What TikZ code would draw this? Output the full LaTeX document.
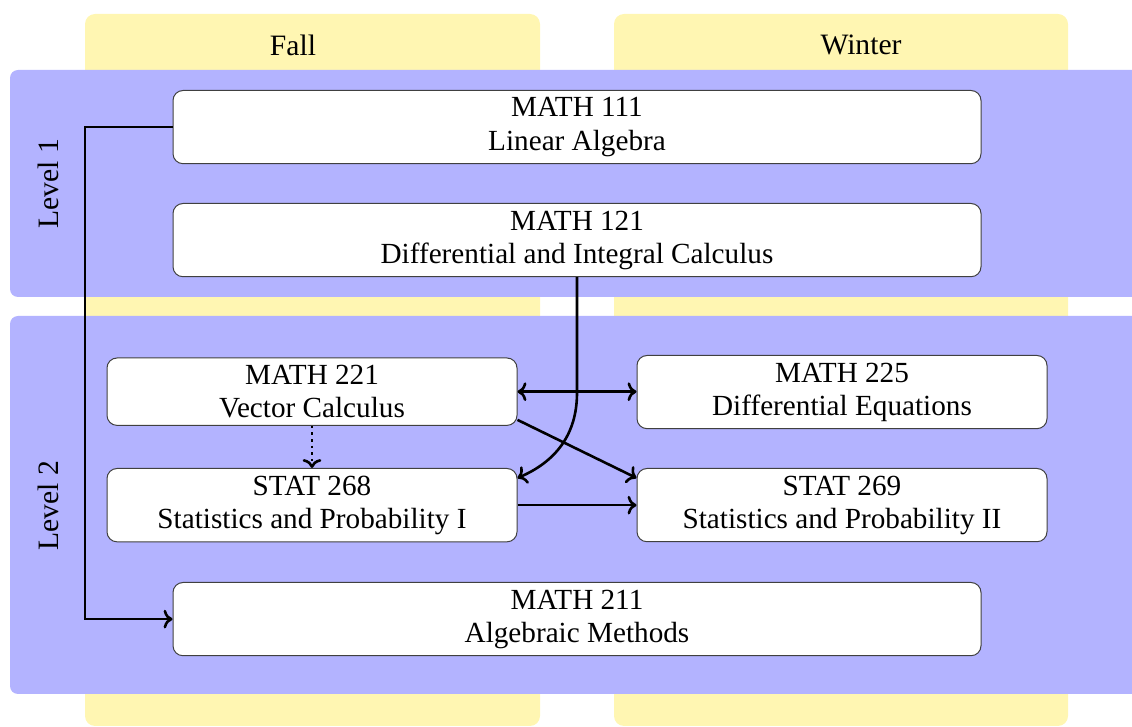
\documentclass[tikz,border=0pt]{standalone}
\usepackage{fontspec}
\setmainfont{Liberation Serif}
\usetikzlibrary{arrows.meta}
\definecolor{colyellow}{RGB}{255,246,178}
\definecolor{colblue}{RGB}{179,179,255}
\tikzset{
  course/.style={draw=black!75, fill=white, rounded corners=5pt, align=center,
    inner sep=3.6pt, line width=0.5pt, font=\fontsize{14.6pt}{16.6pt}\selectfont},
  widebox/.style={course, minimum width=404pt, anchor=north},
  narrowbox/.style={course, minimum width=205pt, anchor=north},
  label/.style={font=\fontsize{14.8pt}{16.6pt}\selectfont, inner sep=0pt},
  arr/.style={line width=1.3pt, ->},
}
\begin{document}
\begin{tikzpicture}[x=0.5pt, y=-0.5pt]
\useasboundingbox (0,0) rectangle (1132,727);
\clip (0,0) rectangle (1132,727);
% columns
\fill[colyellow, rounded corners=5pt] (85,14) rectangle (540,726);
\fill[colyellow, rounded corners=5pt] (614,14) rectangle (1068,726);
\node[label] (fall) at (293,45) {Fall};
\node[label] (winter) at (861,45) {Winter};
% level bands
\fill[colblue, rounded corners=4pt] (10,70) rectangle (1160,297);
\fill[colblue, rounded corners=4pt] (10,316) rectangle (1160,694);
\node[label, rotate=90] (lev1) at (48,184) {Level 1};
\node[label, rotate=90] (lev2) at (48,506) {Level 2};
% courses
\node[widebox] (m111) at (577,90) {MATH 111\\Linear Algebra};
\node[widebox] (m121) at (577,203) {MATH 121\\Differential and Integral Calculus};
\node[narrowbox] (m221) at (312,357.5) {MATH 221\\Vector Calculus};
\node[narrowbox] (m225) at (842,355) {MATH 225\\Differential Equations};
\node[narrowbox] (s268) at (312,468) {STAT 268\\Statistics and Probability I};
\node[narrowbox] (s269) at (842,468) {STAT 269\\Statistics and Probability II};
\node[widebox] (m211) at (577,582) {MATH 211\\Algebraic Methods};
% connectors
\coordinate (bendA) at (85,127);
\draw[arr] (m111.west) -- (m111.west -| bendA) |- (m211.west);
\coordinate (curvetop) at (577,393);
\draw[arr] (m121.south) -- (m121.south |- curvetop) .. controls (577,435) and (555,462) .. ([yshift=-5pt]s268.north east);
\draw[line width=1.3pt, <->] (m221.east) -- (m221.east -| m225.west);
\draw[arr] ([yshift=3pt]m221.south east) -- ([yshift=-5pt]s269.north west);
\draw[arr] (s268.east) -- (s268.east -| s269.west);
\draw[line width=1.3pt, dotted, ->] (m221.south) -- (s268.north);
\end{tikzpicture}
\end{document}
